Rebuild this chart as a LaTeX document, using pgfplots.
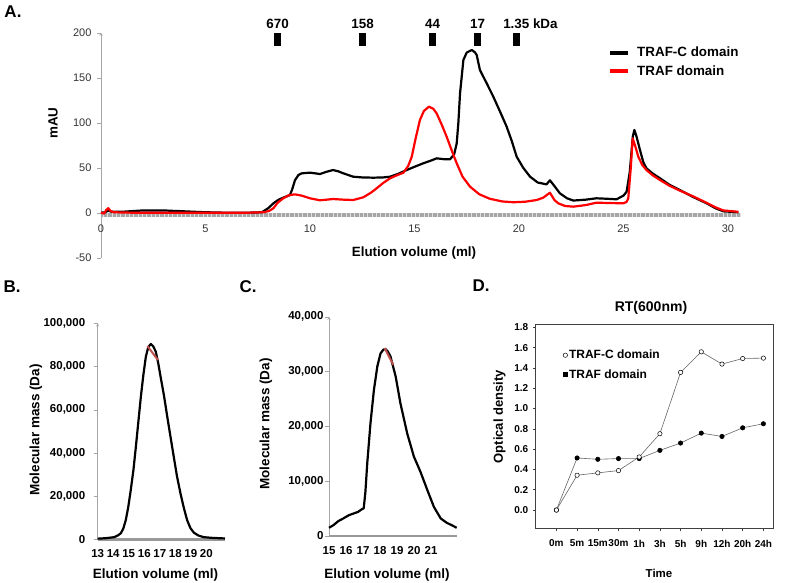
\documentclass[border=0pt]{standalone}
\usepackage{fontspec}
\setmainfont{Liberation Sans}
\usepackage{pgfplots}
\pgfplotsset{compat=1.18}
\definecolor{segred}{HTML}{C0504D}
\definecolor{axgray}{HTML}{A6A6A6}
\newcommand{\fs}[1]{\fontsize{#1}{#1}\selectfont}

\pgfplotsset{
  /pgf/number format/assume math mode=true,
  every axis/.append style={scale only axis, clip=false, axis line style={-}},
  markonly legend/.style={legend image code/.code={\draw[##1] plot coordinates {(0pt,0pt)};}},
}

\begin{document}
\begin{tikzpicture}
\useasboundingbox (0,0) rectangle (787pt,-583pt);

% ---------------- A: chromatogram
\begin{axis}[
  at={(101pt,-257.7pt)}, anchor=south west,
  width=639.5pt, height=225pt,
  xmin=0, xmax=30.6, ymin=-50, ymax=200,
  axis x line=middle, axis y line=left,
  hide obscured x ticks=false, hide obscured y ticks=false,
  x axis line style={draw=none},
  y axis line style={axgray},
  xtick={0,5,...,30}, ytick={-50,0,...,200},
  xtick style={draw=none}, ytick style={axgray},
  tick align=outside, major tick length=4pt,
  xticklabel style={font=\fs{11}, text=black!80, yshift=-5pt},
  yticklabel style={font=\fs{11}, text=black!80, xshift=-2pt},
  legend style={at={(0.788,0.955)}, anchor=north west, draw=none, fill=none,
    font=\bfseries\fs{13.4}, row sep=3.5pt},
  legend cell align=left,
  legend image code/.code={\draw[#1, line width=4pt] (0pt,0pt) -- (18pt,0pt);
    \path (24pt,0pt);},
]
\addplot[forget plot, draw=black!12, line width=4pt] coordinates {(0,-2.6) (30.6,-2.6)};
\addplot[forget plot, draw=black!35, line width=4pt, dash pattern=on 0.7pt off 0.6pt] coordinates {(0,-2.6) (30.6,-2.6)};
\addplot[black, line width=2.2pt, line join=round] coordinates {
 (0,0) (0.2,0.5) (0.35,2.5) (0.5,1) (1,1) (2,2.5) (3,2.5) (4,1.5) (5,0.5) (6,0) (7,0)
 (7.7,0.5) (8.0,5) (8.25,10.4) (8.5,14.5) (8.72,16.7) (9.04,19.6) (9.15,26) (9.28,36)
 (9.45,42) (9.6,43.7) (10.0,44.5) (10.48,43) (10.8,45.5) (11.1,47.4) (11.35,46) (11.6,43.7)
 (12.07,40) (12.5,39.2) (13.03,38.9) (13.5,39.2) (13.83,40) (14.2,43) (14.63,47.4) (15.0,51)
 (15.42,54.9) (15.8,58) (16.06,60.4) (16.4,59.5) (16.7,59.3) (16.9,65) (17.02,77) (17.1,100)
 (17.18,132.7) (17.34,169.7) (17.5,178) (17.74,180.8) (17.9,178) (17.98,175) (18.13,158.6)
 (18.45,144) (18.77,129) (19.1,112) (19.41,95.6) (19.65,80) (19.89,62.2) (20.2,50) (20.53,40)
 (20.9,33.5) (21.32,31.5) (21.48,36) (21.65,31) (21.96,21.5) (22.3,16) (22.6,13.5) (23.2,14.5)
 (23.7,16) (24.2,15.5) (24.67,14.9) (25.0,19) (25.15,23.3) (25.3,45) (25.45,85) (25.52,91.9)
 (25.62,85) (25.79,69.7) (25.95,56) (26.1,49.3) (26.4,43.5) (26.75,38.2) (27.2,31) (27.7,25.2)
 (28.3,17.8) (28.98,10.4) (29.4,5) (29.78,1.5) (30.5,0.5)
};
\addlegendentry{TRAF-C domain}
\addplot[red, line width=2.2pt, line join=round] coordinates {
 (0,0) (0.15,-1) (0.25,3) (0.35,5) (0.45,2) (0.6,0.5) (1.5,0) (5,0) (7,0) (7.8,0.5) (8.05,2)
 (8.25,5) (8.45,11) (8.72,16) (9.0,19.5) (9.28,20.4) (9.6,19) (10.0,16) (10.48,13.8) (10.8,14.5)
 (11.1,15.2) (11.6,14.5) (12.07,14.1) (12.55,17.1) (12.9,22) (13.19,27.1) (13.5,33) (13.83,38.2)
 (14.2,42) (14.47,44.4) (14.7,52) (14.87,62.2) (15.05,82) (15.26,103) (15.45,113) (15.69,117.8)
 (15.9,115.5) (16.06,110.4) (16.3,98) (16.54,84.4) (16.8,68) (17.02,54.9) (17.3,40) (17.66,28.9)
 (18.1,20.5) (18.6,15.5) (19.2,12.5) (19.73,11.6) (20.3,12.2) (20.85,14.1) (21.16,16.7)
 (21.32,19.5) (21.48,22.2) (21.7,14) (21.88,10.4) (22.2,7.5) (22.6,6.7) (23.2,8.5) (23.7,11.1)
 (24.3,10.8) (24.99,10.4) (25.15,12) (25.23,16) (25.35,50) (25.44,82.7) (25.55,75) (25.71,62.2)
 (25.9,53) (26.1,47.4) (26.4,41.5) (26.75,36.3) (27.2,30) (27.7,24.5) (28.3,18.5) (28.98,11)
 (29.4,6) (29.78,2.5) (30.5,1)
};
\addlegendentry{TRAF domain}
% size markers
\addplot[forget plot, black, line width=7pt] coordinates {(8.45,185.6) (8.45,199.7)};
\addplot[forget plot, black, line width=7pt] coordinates {(12.52,185.6) (12.52,199.7)};
\addplot[forget plot, black, line width=7pt] coordinates {(15.87,185.6) (15.87,199.7)};
\addplot[forget plot, black, line width=7pt] coordinates {(18.02,185.6) (18.02,199.7)};
\addplot[forget plot, black, line width=7pt] coordinates {(19.86,185.6) (19.86,199.7)};
\node[anchor=base, font=\bfseries\fs{13.4}, yshift=4.5pt] at (axis cs:8.45,200) {670};
\node[anchor=base, font=\bfseries\fs{13.4}, yshift=4.5pt] at (axis cs:12.52,200) {158};
\node[anchor=base, font=\bfseries\fs{13.4}, yshift=4.5pt] at (axis cs:15.87,200) {44};
\node[anchor=base, font=\bfseries\fs{13.4}, yshift=4.5pt] at (axis cs:18.02,200) {17};
\node[anchor=base west, font=\bfseries\fs{13.4}, yshift=4.5pt, xshift=-13pt, inner sep=0pt] at (axis cs:19.86,200) {1.35 kDa};
\end{axis}

% ---------------- B
\begin{axis}[
  at={(97.7pt,-539.3pt)}, anchor=south west,
  width=127.3pt, height=216pt,
  xmin=13, xmax=21.2, ymin=0, ymax=100000,
  axis x line*=bottom, axis y line=left,
  x axis line style={draw=none}, y axis line style={axgray},
  xtick={13,...,20}, ytick={0,20000,...,100000},
  scaled y ticks=false,
  xtick style={draw=none}, ytick style={axgray},
  tick align=outside, major tick length=4pt,
  xticklabel style={font=\bfseries\fs{11.5}, yshift=-3pt},
  yticklabel style={font=\bfseries\fs{11.5}, xshift=-5pt,
    /pgf/number format/.cd, fixed, 1000 sep={,}},
]
\addplot[draw=black!40, line width=2.7pt] coordinates {(13,0) (21.2,0)};
\addplot[black, line width=2.2pt, line join=round] coordinates {
 (13,300) (13.5,500) (14.07,1000) (14.3,1800) (14.49,2800) (14.65,5000) (14.81,8900) (14.97,15000)
 (15.13,22800) (15.3,32000) (15.46,42900) (15.62,54500) (15.78,66000) (15.94,76000) (16.1,84500)
 (16.26,89000) (16.42,90400) (16.58,89300) (16.74,86900) (16.9,81500) (17.05,75300) (17.27,66500)
 (17.48,56800) (17.7,47000) (17.9,38200) (18.1,29500) (18.33,21300) (18.55,14500) (18.76,8900)
 (18.97,5200) (19.19,3100) (19.5,1700) (19.83,1000) (20.3,700) (20.84,500) (21.2,400)
};
\addplot[segred, line width=2pt] coordinates {(16.2,89500) (16.88,83000)};
\end{axis}

% ---------------- C
\begin{axis}[
  at={(329pt,-536pt)}, anchor=south west,
  width=127.7pt, height=219.3pt,
  xmin=15, xmax=22.51, ymin=0, ymax=40000,
  axis x line*=bottom, axis y line=left,
  x axis line style={draw=none}, y axis line style={axgray},
  xtick={15,...,21}, ytick={0,10000,...,40000},
  scaled y ticks=false,
  xtick style={draw=none}, ytick style={axgray},
  tick align=outside, major tick length=4pt,
  xticklabel style={font=\bfseries\fs{11.5}, yshift=-3pt},
  yticklabel style={font=\bfseries\fs{11.5}, xshift=2pt,
    /pgf/number format/.cd, fixed, 1000 sep={,}},
]
\addplot[draw=black!40, line width=2.7pt] coordinates {(15,0) (22.51,0)};
\addplot[black, line width=2.2pt, line join=round] coordinates {
 (15.0,1500) (15.27,2000) (15.54,2700) (15.84,3200) (16.17,3800) (16.44,4100) (16.71,4400)
 (16.89,4800) (17.04,5050) (17.14,8000) (17.25,13300) (17.44,20600) (17.64,26600) (17.84,30900)
 (18.03,33300) (18.2,34000) (18.32,34100) (18.47,33600) (18.62,32700) (18.92,29100) (19.2,24200)
 (19.6,18700) (19.99,14500) (20.38,11700) (20.78,8400) (21.17,5300) (21.57,3200) (21.93,2400)
 (22.2,2000) (22.51,1500)
};
\addplot[segred, line width=2pt] coordinates {(18.27,34300) (18.78,31200)};
\end{axis}

% ---------------- D
\begin{axis}[
  at={(535.7pt,-528.3pt)}, anchor=south west,
  width=237.6pt, height=204pt,
  xmin=-1, xmax=10.48, ymin=-0.18, ymax=1.83,
  axis line style={black!75, line width=0.6pt},
  xtick={0,...,10},
  xticklabels={0m,5m,15m,30m,1h,3h,5h,9h,12h,20h,24h},
  ytick={0,0.2,0.4,0.6,0.8,1.0,1.2,1.4,1.6,1.8},
  xtick pos=bottom, ytick pos=left,
  tick align=outside, major tick length=3pt,
  tick style={black!75, line width=0.5pt},
  xticklabel style={font=\bfseries\fs{10}, yshift=-5pt},
  yticklabel style={font=\bfseries\fs{10}, xshift=-1pt,
    /pgf/number format/.cd, fixed, fixed zerofill, precision=1},
  legend style={at={(0.102,0.894)}, anchor=north west, draw=none, fill=none,
    font=\bfseries\fs{12}, row sep=5pt, nodes={inner xsep=1.5pt}},
  legend cell align=left,
]
\addplot[forget plot, black!60, line width=0.6pt, mark=*, mark size=2.2pt,
  mark options={draw=black, fill=black}] coordinates {
 (0,0) (1,0.513) (2,0.5) (3,0.507) (4,0.507) (5,0.588) (6,0.66) (7,0.758) (8,0.725) (9,0.81) (10,0.85)
};
\addplot[forget plot, black!60, line width=0.6pt, mark=*, mark size=2.2pt,
  mark options={draw=black, fill=white, line width=0.5pt}] coordinates {
 (0,0) (1,0.343) (2,0.366) (3,0.389) (4,0.523) (5,0.752) (6,1.356) (7,1.559) (8,1.438) (9,1.493) (10,1.497)
};
\addlegendimage{markonly legend, mark=*, mark size=2.2pt, mark options={draw=black, fill=white, line width=0.5pt}}
\addlegendentry{TRAF-C domain}
\addlegendimage{markonly legend, mark=square*, mark size=2pt, mark options={draw=black, fill=black}}
\addlegendentry{TRAF domain}
\end{axis}

% ---------------- titles and labels
\node[font=\bfseries\fs{17}] at (13pt,-12pt) {A.};
\node[font=\bfseries\fs{17}] at (12pt,-287pt) {B.};
\node[font=\bfseries\fs{17}] at (248pt,-287pt) {C.};
\node[font=\bfseries\fs{17}] at (481pt,-286pt) {D.};
\node[rotate=90, font=\bfseries\fs{13.4}] at (53pt,-123pt) {mAU};
\node[font=\bfseries\fs{13.4}] at (414pt,-253pt) {Elution volume (ml)};
\node[rotate=90, font=\bfseries\fs{13.5}] at (36pt,-430pt) {Molecular mass (Da)};
\node[font=\bfseries\fs{13.5}] at (155.5pt,-575pt) {Elution volume (ml)};
\node[rotate=90, font=\bfseries\fs{13.5}] at (266pt,-424pt) {Molecular mass (Da)};
\node[font=\bfseries\fs{13.5}] at (387pt,-575pt) {Elution volume (ml)};
\node[rotate=90, font=\bfseries\fs{13}] at (499.5pt,-416.7pt) {Optical density};
\node[font=\bfseries\fs{14}] at (651pt,-307.5pt) {RT(600nm)};
\node[font=\bfseries\fs{11.5}] at (659pt,-573pt) {Time};
\end{tikzpicture}
\end{document}
